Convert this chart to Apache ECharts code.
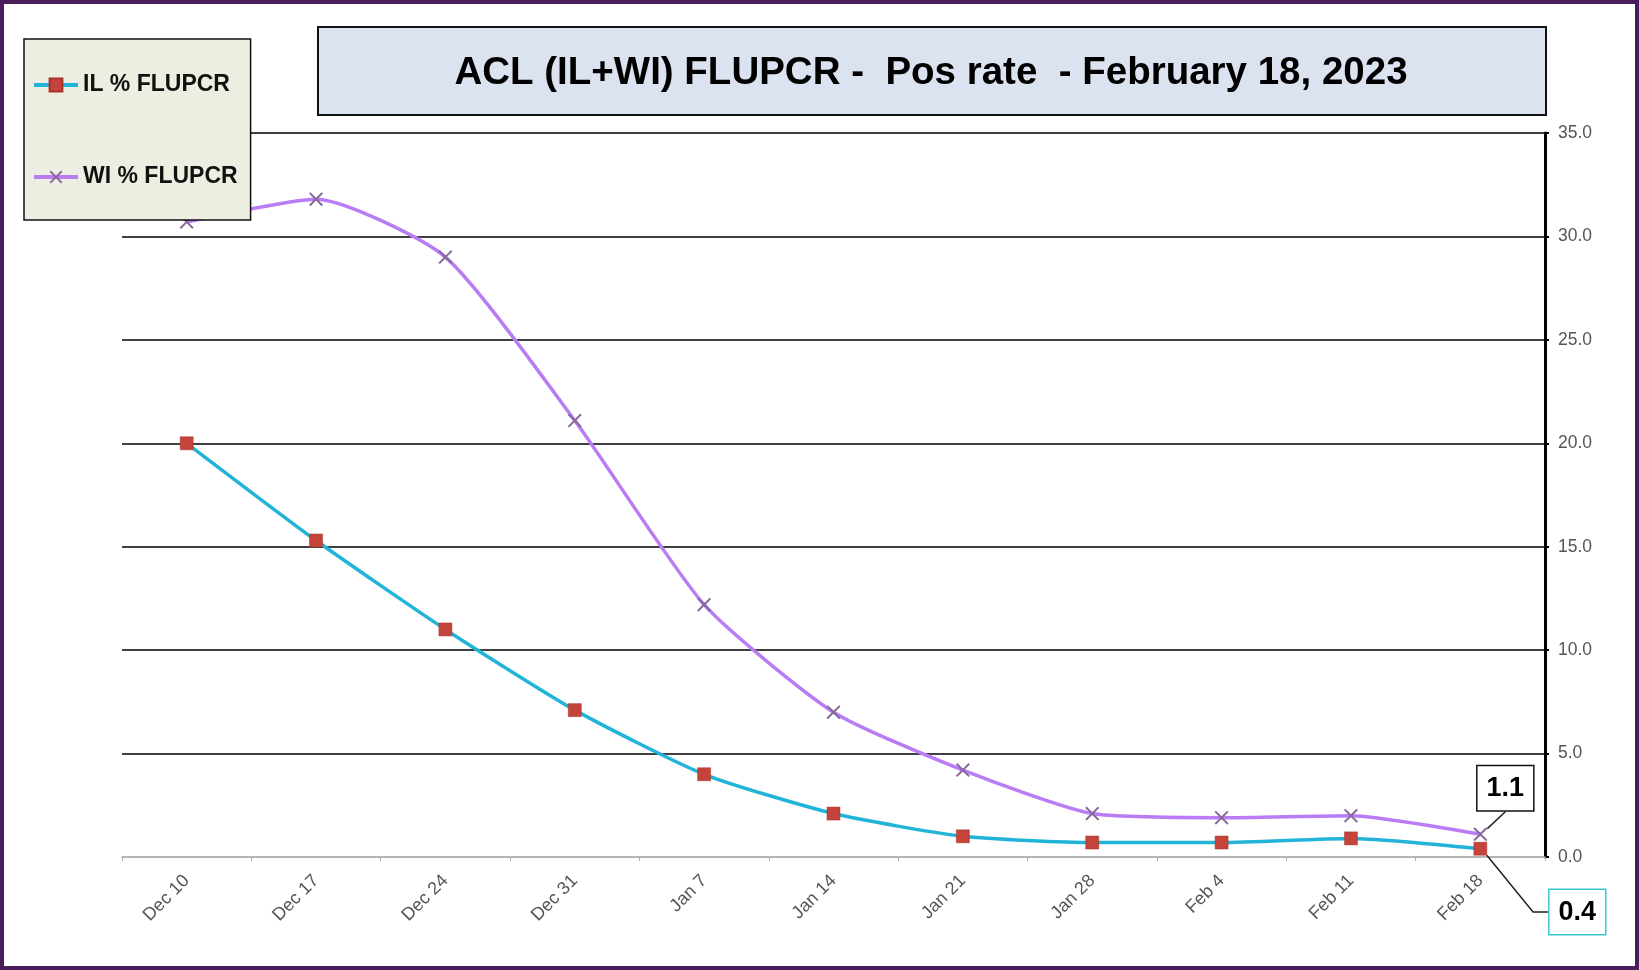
<!DOCTYPE html>
<html>
<head>
<meta charset="utf-8">
<title>ACL FLUPCR Pos rate</title>
<script src="https://cdn.jsdelivr.net/npm/echarts@6/dist/echarts.min.js"></script>
<style>
  html, body { margin: 0; padding: 0; background: #fff; }
  #chart { width: 1639px; height: 970px; }
</style>
</head>
<body>
<div id="chart"></div>
<script>
// week ending dates
const weeks = ['Dec 10', 'Dec 17', 'Dec 24', 'Dec 31', 'Jan 7', 'Jan 14', 'Jan 21', 'Jan 28', 'Feb 4', 'Feb 11', 'Feb 18']
// positivity rates (%)
const ilRate = [20.0, 15.3, 11.0, 7.1, 4.0, 2.1, 1.0, 0.7, 0.7, 0.9, 0.4]
const wiRate = [30.7, 31.8, 29.0, 21.1, 12.2, 7.0, 4.2, 2.1, 1.9, 2.0, 1.1]
const yTicks = [0, 5, 10, 15, 20, 25, 30, 35]

const FONT = '"Liberation Sans", Arial, sans-serif'
const xMark = 'path://M2,0 L10,8 L18,0 L20,2 L12,10 L20,18 L18,20 L10,12 L2,20 L0,18 L8,10 L0,2 Z'

// only the latest week gets a callout box
const withCallout = (values, boxColor, length2) => values.map((v, i) => {
  if (i !== values.length - 1) return v
  return {
    value: v,
    label: {
      show: true,
      formatter: p => p.value.toFixed(1),
      fontFamily: FONT,
      fontSize: 27,
      fontWeight: 'bold',
      color: '#000',
      backgroundColor: '#fff',
      borderColor: boxColor,
      borderWidth: 1.5,
      padding: [9, 9, 8, 9]
    },
    labelLine: { show: true, length2: length2, lineStyle: { color: '#222', width: 1.5 } }
  }
})

const chart = echarts.init(document.getElementById('chart'))

chart.setOption({
  backgroundColor: '#fff',
  animation: false,
  graphic: [
    // outer frame
    { type: 'rect', z: 0, shape: { x: 2, y: 2, width: 1635, height: 966 },
      style: { fill: 'none', stroke: '#4a1c5c', lineWidth: 4 } },
    // title box
    { type: 'rect', z: 0, shape: { x: 318, y: 27, width: 1228, height: 88 },
      style: { fill: '#dce3f0', stroke: '#111', lineWidth: 2 } }
  ],
  title: {
    text: 'ACL (IL+WI) FLUPCR -  Pos rate  - February 18, 2023',
    left: 926,
    top: 49,
    textAlign: 'center',
    textStyle: { fontFamily: FONT, fontSize: 38.5, fontWeight: 'bold', color: '#000' }
  },
  legend: {
    orient: 'vertical',
    left: 24,
    top: 39,
    itemWidth: 44,
    itemHeight: 16,
    itemGap: 68,
    padding: [34, 13, 31, 8],
    backgroundColor: '#eceee2',
    borderColor: '#111',
    borderWidth: 1.5,
    lineStyle: { width: 4 },
    textStyle: { fontFamily: FONT, fontSize: 23, fontWeight: 'bold', color: '#111', lineHeight: 24 },
    data: ['IL % FLUPCR', 'WI % FLUPCR']
  },
  grid: { left: 122, right: 94, top: 133, bottom: 113 },
  xAxis: {
    type: 'category',
    data: weeks,
    boundaryGap: true,
    axisLine: { lineStyle: { color: '#b0b0b0', width: 1.5 } },
    axisTick: { show: true, length: 4, lineStyle: { color: '#b0b0b0' } },
    axisLabel: { rotate: 45, margin: 21, fontFamily: FONT, fontSize: 18, color: '#555' }
  },
  yAxis: {
    type: 'value',
    position: 'right',
    min: yTicks[0],
    max: yTicks[yTicks.length - 1],
    interval: 5,
    axisLine: { show: true, lineStyle: { color: '#000', width: 3 } },
    axisTick: { show: true, length: 4, lineStyle: { color: '#000', width: 2 } },
    axisLabel: { margin: 13, fontFamily: FONT, fontSize: 17.5, color: '#555', formatter: v => v.toFixed(1) },
    splitLine: { show: true, lineStyle: { color: ['#b0b0b0', '#000', '#000', '#000', '#000', '#000', '#000', '#000'], width: 1.5 } }
  },
  series: [
    {
      name: 'IL % FLUPCR',
      type: 'line',
      data: withCallout(ilRate, '#3cc6d2', 15),
      smooth: 0.2,
      symbol: 'rect',
      symbolSize: 13,
      itemStyle: { color: '#c4443b', borderColor: '#a8322c', borderWidth: 0.5 },
      lineStyle: { color: '#22b4d8', width: 3.5 },
      labelLayout: p => p.dataIndex === ilRate.length - 1 ? { dx: 97, dy: 97 } : null,
      z: 3
    },
    {
      name: 'WI % FLUPCR',
      type: 'line',
      data: withCallout(wiRate, '#111', 0),
      smooth: 0.2,
      symbol: xMark,
      symbolSize: 14,
      itemStyle: { color: '#85699a' },
      lineStyle: { color: '#b97cf4', width: 3.5 },
      labelLayout: p => p.dataIndex === wiRate.length - 1 ? { dx: 25, dy: -12 } : null,
      z: 2
    }
  ]
})
</script>
</body>
</html>
